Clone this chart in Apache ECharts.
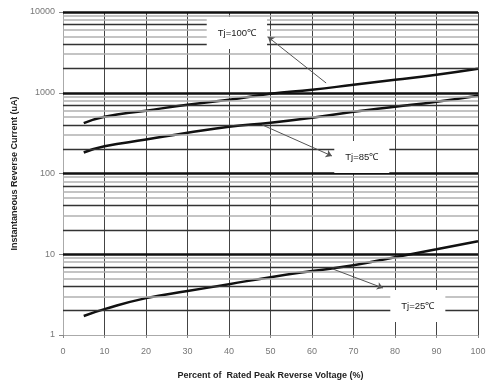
<!DOCTYPE html>
<html>
<head>
<meta charset="utf-8">
<script src="https://cdn.jsdelivr.net/npm/echarts@6/dist/echarts.min.js"></script>
<style>html,body{margin:0;padding:0;background:#fff}#c{width:489px;height:387px}</style>
</head>
<body>
<div id="c"></div>
<script>
// ---- data ----
var xValues = [5, 10, 20, 30, 40, 50, 60, 70, 80, 90, 100];
var tj100 = [420, 505, 600, 710, 820, 970, 1090, 1255, 1445, 1670, 1980];
var tj85 = [182, 217, 263, 320, 380, 425, 490, 580, 670, 775, 920];
var tj25 = [1.72, 2.09, 2.86, 3.5, 4.26, 5.2, 6.2, 7.3, 9.2, 11.5, 14.5];
var decades = [1, 10, 100, 1000];
var minorMultipliers = [2, 3, 4, 5, 6, 7, 8, 9];
var labelNames = ['Tj=100℃', 'Tj=85℃', 'Tj=25℃'];
// annotation anchors [labelCenter, arrowTail, arrowHead] in data coords
var annot100 = [[41.9, 5500], [63.4, 1320], [49.4, 4900]];
var annot85 = [[72, 160], [48, 400], [64.8, 165]];
var annot25 = [[85.5, 2.29], [65, 6.57], [77.1, 3.82]];

var darkMinor = {2: true, 4: true, 7: true};

function pairs(xs, ys) { return xs.map(function (x, i) { return [x, ys[i]]; }); }

var gridLines = [];
decades.forEach(function (d) {
  minorMultipliers.forEach(function (m) {
    var dark = darkMinor[m];
    gridLines.push({yAxis: d * m, lineStyle: {color: dark ? '#333' : '#b0b0b0', width: dark ? 1.3 : 1.6, type: 'solid'}});
  });
});
decades.concat([10000]).forEach(function (d) {
  if (d === 1) return;
  gridLines.push({yAxis: d, lineStyle: {color: '#111', width: 2.5, type: 'solid'}});
});

function annotation(a, name) {
  return {
    markPoint: {
      symbol: 'rect', symbolSize: 0, silent: true,
      data: [{coord: a[0], value: name}],
      label: {show: true, position: 'inside', formatter: name, color: '#222', fontSize: 9.5,
        fontFamily: 'Liberation Sans', backgroundColor: '#fff', padding: [11, 11]}
    },
    markLine: {
      silent: true, symbol: ['none', 'arrow'], symbolSize: 6,
      lineStyle: {color: '#555', width: 1, type: 'solid'},
      label: {show: false},
      data: [[{coord: a[1]}, {coord: a[2]}]]
    }
  };
}

function curve(name, ys, a) {
  var s = {
    name: name, type: 'line', smooth: true, symbol: 'none', z: 3,
    lineStyle: {color: '#111', width: 2.5},
    data: pairs(xValues, ys)
  };
  var an = annotation(a, name);
  s.markPoint = an.markPoint; s.markLine = an.markLine;
  return s;
}

var chart = echarts.init(document.getElementById('c'));
chart.setOption({
  animation: false,
  backgroundColor: '#fff',
  grid: {left: 63, right: 11, top: 12, bottom: 52},
  xAxis: {
    type: 'value', min: 0, max: 100, interval: 10,
    name: 'Percent of  Rated Peak Reverse Voltage (%)', nameLocation: 'middle', nameGap: 36,
    nameTextStyle: {fontFamily: 'Liberation Sans', fontWeight: 'bold', fontSize: 9, color: '#222'},
    axisLine: {show: true, lineStyle: {color: '#aaa', width: 1}},
    axisTick: {show: true, inside: false, length: 3, lineStyle: {color: '#888'}},
    axisLabel: {color: '#777', fontSize: 9, fontFamily: 'Liberation Sans', margin: 12},
    splitLine: {show: true, lineStyle: {color: '#444', width: 1}}
  },
  yAxis: {
    type: 'log', logBase: 10, min: 1, max: 10000,
    name: 'Instantaneous Reverse Current (uA)', nameLocation: 'middle', nameGap: 44,
    nameTextStyle: {fontFamily: 'Liberation Sans', fontWeight: 'bold', fontSize: 9, color: '#222'},
    axisLine: {show: true, lineStyle: {color: '#aaa', width: 1}},
    axisTick: {show: true, length: 4, lineStyle: {color: '#888'}},
    axisLabel: {color: '#777', fontSize: 9, fontFamily: 'Liberation Sans', margin: 8,
      formatter: function (v) { return String(Math.round(v)); }},
    splitLine: {show: false}
  },
  series: [
    {
      name: 'grid', type: 'line', data: [], z: 1, silent: true,
      markLine: {silent: true, symbol: 'none', label: {show: false}, animation: false, data: gridLines}
    },
    curve(labelNames[0], tj100, annot100),
    curve(labelNames[1], tj85, annot85),
    curve(labelNames[2], tj25, annot25)
  ]
});
</script>
</body>
</html>
